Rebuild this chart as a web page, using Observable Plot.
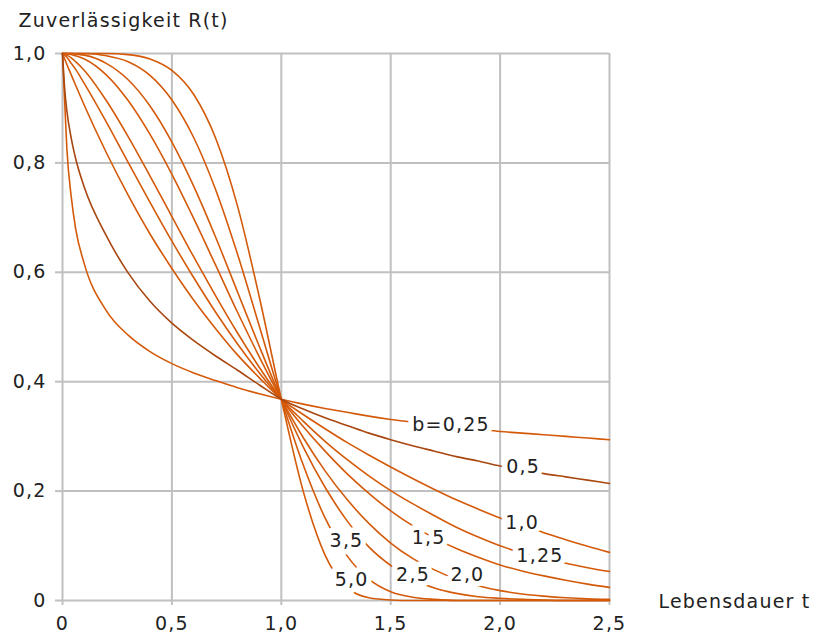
<!DOCTYPE html>
<html>
<head>
<meta charset="utf-8">
<script src="https://cdn.jsdelivr.net/npm/d3@7"></script>
<script src="https://cdn.jsdelivr.net/npm/@observablehq/plot@0.6"></script>
<style>
  html, body { margin: 0; padding: 0; background: #fff; }
  svg text { letter-spacing: 1.2px; }
</style>
</head>
<body>
<div id="chart"></div>
<script>
// Lebensdauer t (shared sample points)
const tValues = [0, 0.01, 0.02, 0.04, 0.06,
  0.1, 0.2, 0.3, 0.4, 0.5, 0.6, 0.7, 0.8, 0.9, 1.0,
  1.1, 1.2, 1.3, 1.4, 1.5, 1.6, 1.7, 1.8, 1.9, 2.0, 2.1, 2.2, 2.3, 2.4, 2.5];

// Zuverlässigkeit R(t) per shape parameter b
const r025 = [1, 0.912, 0.826, 0.738, 0.680,
  0.615, 0.530, 0.485, 0.455, 0.433, 0.416, 0.402, 0.389, 0.378, 0.368,
  0.359, 0.351, 0.344, 0.337, 0.331, 0.326, 0.321, 0.317, 0.313, 0.309, 0.306, 0.303, 0.300, 0.297, 0.294];
const r05 = [1, 0.935, 0.895, 0.845, 0.808,
  0.755, 0.667, 0.599, 0.547, 0.507, 0.475, 0.447, 0.421, 0.394, 0.368,
  0.350, 0.334, 0.320, 0.306, 0.294, 0.283, 0.273, 0.263, 0.255, 0.246, 0.239, 0.232, 0.226, 0.220, 0.214];
const r10 = [1, 0.990, 0.980, 0.961, 0.942,
  0.905, 0.819, 0.741, 0.670, 0.607, 0.549, 0.497, 0.449, 0.407, 0.368,
  0.340, 0.314, 0.289, 0.266, 0.244, 0.223, 0.203, 0.184, 0.167, 0.151, 0.137, 0.124, 0.111, 0.099, 0.088];
const r125 = [1, 0.997, 0.993, 0.982, 0.971,
  0.945, 0.875, 0.801, 0.728, 0.657, 0.590, 0.527, 0.469, 0.416, 0.368,
  0.328, 0.291, 0.258, 0.228, 0.201, 0.177, 0.155, 0.134, 0.116, 0.100, 0.087, 0.077, 0.068, 0.060, 0.053];
const r15 = [1, 0.999, 0.997, 0.992, 0.985,
  0.969, 0.914, 0.848, 0.776, 0.702, 0.628, 0.557, 0.489, 0.426, 0.368,
  0.318, 0.273, 0.232, 0.196, 0.164, 0.137, 0.114, 0.095, 0.079, 0.065, 0.054, 0.045, 0.037, 0.030, 0.024];
const r20 = [1, 1, 1, 0.998, 0.996,
  0.990, 0.961, 0.914, 0.852, 0.779, 0.698, 0.613, 0.527, 0.445, 0.368,
  0.298, 0.237, 0.185, 0.141, 0.105, 0.077, 0.056, 0.039, 0.027, 0.018, 0.012, 0.008, 0.005, 0.003, 0.002];
const r25 = [1, 1, 1, 1, 0.999,
  0.997, 0.982, 0.952, 0.904, 0.838, 0.757, 0.664, 0.564, 0.464, 0.368,
  0.281, 0.207, 0.146, 0.098, 0.064, 0.039, 0.023, 0.013, 0.007, 0.004, 0.002, 0.001, 0.000, 0.000, 0.000];
const r35 = [1, 1, 1, 1, 1,
  1.000, 0.996, 0.985, 0.960, 0.915, 0.846, 0.751, 0.633, 0.501, 0.368,
  0.248, 0.151, 0.082, 0.039, 0.016, 0.006, 0.002, 0.000, 0, 0, 0, 0, 0, 0, 0];
const r50 = [1, 1, 1, 1, 1,
  1.000, 1.000, 0.998, 0.990, 0.969, 0.925, 0.845, 0.721, 0.554, 0.368,
  0.200, 0.083, 0.024, 0.005, 0.001, 0, 0, 0, 0, 0, 0, 0, 0, 0, 0];

const bValues = [0.25, 0.5, 1.0, 1.25, 1.5, 2.0, 2.5, 3.5, 5.0];
const seriesValues = [r025, r05, r10, r125, r15, r20, r25, r35, r50];

// curve labels (text and the spot on the chart where each sits)
const labelTexts = ["b=0,25", "0,5", "1,0", "1,25", "1,5", "2,0", "2,5", "3,5", "5,0"];
const labelT = [1.776, 2.105, 2.101, 2.182, 1.673, 1.851, 1.602, 1.298, 1.321];
const labelR = [0.321, 0.244, 0.142, 0.082, 0.114, 0.047, 0.047, 0.109, 0.037];

// axes
const xTicks = [0, 0.5, 1.0, 1.5, 2.0, 2.5];
const yTicks = [0, 0.2, 0.4, 0.6, 0.8, 1.0];
const yTitle = "Zuverlässigkeit R(t)";
const xTitle = "Lebensdauer t";

const orange = "#d45a0a";
const darkOrange = "#a8470f";
const gridColor = "#c0c0c0";
const textColor = "#222";

const rows = [];
bValues.forEach((b, i) => {
  seriesValues[i].forEach((r, j) => {
    rows.push({b, t: tValues[j], r, color: b === 0.5 ? darkOrange : orange});
  });
});
const labels = labelTexts.map((text, i) => ({text, t: labelT[i], r: labelR[i]}));

const fmt = d => d === 0 ? "0" : d.toFixed(1).replace(".", ",");

const chart = Plot.plot({
  width: 816,
  height: 635,
  marginLeft: 62,
  marginRight: 207,
  marginTop: 53,
  marginBottom: 35,
  x: {domain: [0, 2.5]},
  y: {domain: [0, 1]},
  color: {type: "identity"},
  style: {fontFamily: "'DejaVu Sans', Verdana, sans-serif", fontSize: "19px", color: textColor, background: "#fff", overflow: "visible"},
  marks: [
    Plot.gridY(yTicks, {stroke: gridColor, strokeOpacity: 1, strokeWidth: 2}),
    Plot.gridX(xTicks, {stroke: gridColor, strokeOpacity: 1, strokeWidth: 2}),
    Plot.axisY(yTicks, {tickFormat: fmt, tickSize: 7, tickPadding: 9, stroke: gridColor, strokeWidth: 2, label: null}),
    Plot.axisX(xTicks, {tickFormat: fmt, tickSize: 5, tickPadding: 11, stroke: gridColor, strokeWidth: 2, label: null}),
    Plot.line(rows.filter(d => d.b !== 0.5), {x: "t", y: "r", z: "b", stroke: "color", curve: "monotone-x", strokeWidth: 1.6}),
    Plot.line(rows.filter(d => d.b === 0.5), {x: "t", y: "r", z: "b", stroke: "color", curve: "monotone-x", strokeWidth: 1.6}),
    Plot.text(labels, {x: "t", y: "r", text: "text", fill: textColor, stroke: "white", strokeWidth: 11, strokeLinejoin: "round", paintOrder: "stroke"}),
    Plot.text([yTitle], {frameAnchor: "top-left", dx: -44, dy: -33, lineAnchor: "middle", textAnchor: "start", fill: textColor}),
    Plot.text([xTitle], {frameAnchor: "bottom-right", dx: 49, dy: 1, lineAnchor: "middle", textAnchor: "start", fill: textColor})
  ]
});
document.getElementById("chart").appendChild(chart);
</script>
</body>
</html>
